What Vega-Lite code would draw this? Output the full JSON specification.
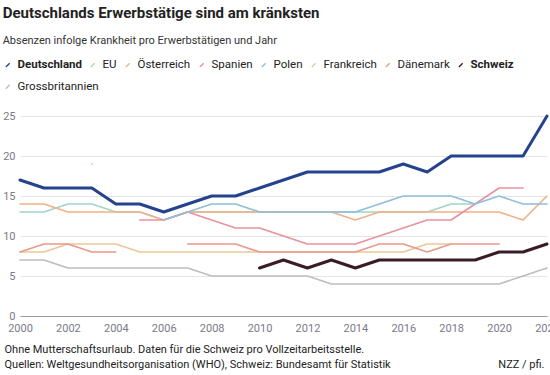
{
  "$schema": "https://vega.github.io/schema/vega-lite/v6.json",
  "width": 550,
  "height": 375,
  "autosize": {"type": "fit", "contains": "padding"},
  "padding": {"left": 2, "right": -10, "top": 6, "bottom": 6},
  "background": "white",
  "title": {
    "text": "Deutschlands Erwerbstätige sind am kränksten",
    "subtitle": "Absenzen infolge Krankheit pro Erwerbstätigen und Jahr",
    "anchor": "start",
    "frame": "bounds",
    "font": "Roboto",
    "fontSize": 15,
    "fontWeight": "bold",
    "color": "#222222",
    "subtitleFont": "Roboto",
    "subtitleFontSize": 11,
    "subtitleColor": "#333333",
    "subtitlePadding": 14,
    "offset": 64
  },
  "config": {
    "view": {"stroke": null},
    "font": "Roboto",
    "legend": {
      "title": null,
      "orient": "none",
      "direction": "horizontal",
      "symbolType": "M-0.5,0.5L0.5,-0.5",
      "symbolSize": 60,
      "symbolStrokeWidth": 1.3,
      "labelFont": "Roboto",
      "labelFontSize": 11.5,
      "labelColor": "#222222",
      "labelOffset": 4,
      "columnPadding": 5
    }
  },
  "data": {
    "values": [
      {"year": 2000, "land": "Deutschland", "value": 17},
      {"year": 2001, "land": "Deutschland", "value": 16},
      {"year": 2002, "land": "Deutschland", "value": 16},
      {"year": 2003, "land": "Deutschland", "value": 16},
      {"year": 2004, "land": "Deutschland", "value": 14},
      {"year": 2005, "land": "Deutschland", "value": 14},
      {"year": 2006, "land": "Deutschland", "value": 13},
      {"year": 2007, "land": "Deutschland", "value": 14},
      {"year": 2008, "land": "Deutschland", "value": 15},
      {"year": 2009, "land": "Deutschland", "value": 15},
      {"year": 2010, "land": "Deutschland", "value": 16},
      {"year": 2011, "land": "Deutschland", "value": 17},
      {"year": 2012, "land": "Deutschland", "value": 18},
      {"year": 2013, "land": "Deutschland", "value": 18},
      {"year": 2014, "land": "Deutschland", "value": 18},
      {"year": 2015, "land": "Deutschland", "value": 18},
      {"year": 2016, "land": "Deutschland", "value": 19},
      {"year": 2017, "land": "Deutschland", "value": 18},
      {"year": 2018, "land": "Deutschland", "value": 20},
      {"year": 2019, "land": "Deutschland", "value": 20},
      {"year": 2020, "land": "Deutschland", "value": 20},
      {"year": 2021, "land": "Deutschland", "value": 20},
      {"year": 2022, "land": "Deutschland", "value": 25},

      {"year": 2000, "land": "EU", "value": 13},
      {"year": 2001, "land": "EU", "value": 13},
      {"year": 2002, "land": "EU", "value": 14},
      {"year": 2003, "land": "EU", "value": 14},
      {"year": 2004, "land": "EU", "value": 13},
      {"year": 2005, "land": "EU", "value": 13},
      {"year": 2006, "land": "EU", "value": 12},
      {"year": 2007, "land": "EU", "value": 13},
      {"year": 2008, "land": "EU", "value": 13},
      {"year": 2009, "land": "EU", "value": 13},
      {"year": 2010, "land": "EU", "value": 13},
      {"year": 2011, "land": "EU", "value": 13},
      {"year": 2012, "land": "EU", "value": 13},
      {"year": 2013, "land": "EU", "value": 13},
      {"year": 2014, "land": "EU", "value": 13},
      {"year": 2015, "land": "EU", "value": 13},
      {"year": 2016, "land": "EU", "value": 13},
      {"year": 2017, "land": "EU", "value": 13},
      {"year": 2018, "land": "EU", "value": 14},
      {"year": 2019, "land": "EU", "value": 14},

      {"year": 2000, "land": "Österreich", "value": 14},
      {"year": 2001, "land": "Österreich", "value": 14},
      {"year": 2002, "land": "Österreich", "value": 13},
      {"year": 2003, "land": "Österreich", "value": 13},
      {"year": 2004, "land": "Österreich", "value": 13},
      {"year": 2005, "land": "Österreich", "value": 13},
      {"year": 2006, "land": "Österreich", "value": 12},
      {"year": 2007, "land": "Österreich", "value": 13},
      {"year": 2008, "land": "Österreich", "value": 13},
      {"year": 2009, "land": "Österreich", "value": 13},
      {"year": 2010, "land": "Österreich", "value": 13},
      {"year": 2011, "land": "Österreich", "value": 13},
      {"year": 2012, "land": "Österreich", "value": 13},
      {"year": 2013, "land": "Österreich", "value": 13},
      {"year": 2014, "land": "Österreich", "value": 12},
      {"year": 2015, "land": "Österreich", "value": 13},
      {"year": 2016, "land": "Österreich", "value": 13},
      {"year": 2017, "land": "Österreich", "value": 13},
      {"year": 2018, "land": "Österreich", "value": 13},
      {"year": 2019, "land": "Österreich", "value": 13},
      {"year": 2020, "land": "Österreich", "value": 13},
      {"year": 2021, "land": "Österreich", "value": 12},
      {"year": 2022, "land": "Österreich", "value": 15},

      {"year": 2003, "land": "Spanien", "value": 19},
      {"year": 2004, "land": "Spanien", "value": null},
      {"year": 2005, "land": "Spanien", "value": 12},
      {"year": 2006, "land": "Spanien", "value": 12},
      {"year": 2007, "land": "Spanien", "value": 13},
      {"year": 2008, "land": "Spanien", "value": 12},
      {"year": 2009, "land": "Spanien", "value": 11},
      {"year": 2010, "land": "Spanien", "value": 11},
      {"year": 2011, "land": "Spanien", "value": 10},
      {"year": 2012, "land": "Spanien", "value": 9},
      {"year": 2013, "land": "Spanien", "value": 9},
      {"year": 2014, "land": "Spanien", "value": 9},
      {"year": 2015, "land": "Spanien", "value": 10},
      {"year": 2016, "land": "Spanien", "value": 11},
      {"year": 2017, "land": "Spanien", "value": 12},
      {"year": 2018, "land": "Spanien", "value": 12},
      {"year": 2019, "land": "Spanien", "value": 14},
      {"year": 2020, "land": "Spanien", "value": 16},
      {"year": 2021, "land": "Spanien", "value": 16},

      {"year": 2006, "land": "Polen", "value": 12},
      {"year": 2007, "land": "Polen", "value": 13},
      {"year": 2008, "land": "Polen", "value": 14},
      {"year": 2009, "land": "Polen", "value": 14},
      {"year": 2010, "land": "Polen", "value": 13},
      {"year": 2011, "land": "Polen", "value": 13},
      {"year": 2012, "land": "Polen", "value": 13},
      {"year": 2013, "land": "Polen", "value": 13},
      {"year": 2014, "land": "Polen", "value": 13},
      {"year": 2015, "land": "Polen", "value": 14},
      {"year": 2016, "land": "Polen", "value": 15},
      {"year": 2017, "land": "Polen", "value": 15},
      {"year": 2018, "land": "Polen", "value": 15},
      {"year": 2019, "land": "Polen", "value": 14},
      {"year": 2020, "land": "Polen", "value": 15},
      {"year": 2021, "land": "Polen", "value": 14},
      {"year": 2022, "land": "Polen", "value": 14},

      {"year": 2000, "land": "Frankreich", "value": 8},
      {"year": 2001, "land": "Frankreich", "value": 8},
      {"year": 2002, "land": "Frankreich", "value": 9},
      {"year": 2003, "land": "Frankreich", "value": 9},
      {"year": 2004, "land": "Frankreich", "value": 9},
      {"year": 2005, "land": "Frankreich", "value": 8},
      {"year": 2006, "land": "Frankreich", "value": 8},
      {"year": 2007, "land": "Frankreich", "value": 8},
      {"year": 2008, "land": "Frankreich", "value": 8},
      {"year": 2009, "land": "Frankreich", "value": 8},
      {"year": 2010, "land": "Frankreich", "value": 8},
      {"year": 2011, "land": "Frankreich", "value": 8},
      {"year": 2012, "land": "Frankreich", "value": 8},
      {"year": 2013, "land": "Frankreich", "value": 8},
      {"year": 2014, "land": "Frankreich", "value": 8},
      {"year": 2015, "land": "Frankreich", "value": 8},
      {"year": 2016, "land": "Frankreich", "value": 8},
      {"year": 2017, "land": "Frankreich", "value": 9},
      {"year": 2018, "land": "Frankreich", "value": 9},

      {"year": 2000, "land": "Dänemark", "value": 8},
      {"year": 2001, "land": "Dänemark", "value": 9},
      {"year": 2002, "land": "Dänemark", "value": 9},
      {"year": 2003, "land": "Dänemark", "value": 8},
      {"year": 2004, "land": "Dänemark", "value": 8},
      {"year": 2005, "land": "Dänemark", "value": null},
      {"year": 2006, "land": "Dänemark", "value": null},
      {"year": 2007, "land": "Dänemark", "value": 9},
      {"year": 2008, "land": "Dänemark", "value": 9},
      {"year": 2009, "land": "Dänemark", "value": 9},
      {"year": 2010, "land": "Dänemark", "value": 8},
      {"year": 2011, "land": "Dänemark", "value": 8},
      {"year": 2012, "land": "Dänemark", "value": 8},
      {"year": 2013, "land": "Dänemark", "value": 8},
      {"year": 2014, "land": "Dänemark", "value": 8},
      {"year": 2015, "land": "Dänemark", "value": 9},
      {"year": 2016, "land": "Dänemark", "value": 9},
      {"year": 2017, "land": "Dänemark", "value": 8},
      {"year": 2018, "land": "Dänemark", "value": 9},
      {"year": 2019, "land": "Dänemark", "value": 9},
      {"year": 2020, "land": "Dänemark", "value": 9},

      {"year": 2010, "land": "Schweiz", "value": 6},
      {"year": 2011, "land": "Schweiz", "value": 7},
      {"year": 2012, "land": "Schweiz", "value": 6},
      {"year": 2013, "land": "Schweiz", "value": 7},
      {"year": 2014, "land": "Schweiz", "value": 6},
      {"year": 2015, "land": "Schweiz", "value": 7},
      {"year": 2016, "land": "Schweiz", "value": 7},
      {"year": 2017, "land": "Schweiz", "value": 7},
      {"year": 2018, "land": "Schweiz", "value": 7},
      {"year": 2019, "land": "Schweiz", "value": 7},
      {"year": 2020, "land": "Schweiz", "value": 8},
      {"year": 2021, "land": "Schweiz", "value": 8},
      {"year": 2022, "land": "Schweiz", "value": 9},

      {"year": 2000, "land": "Grossbritannien", "value": 7},
      {"year": 2001, "land": "Grossbritannien", "value": 7},
      {"year": 2002, "land": "Grossbritannien", "value": 6},
      {"year": 2003, "land": "Grossbritannien", "value": 6},
      {"year": 2004, "land": "Grossbritannien", "value": 6},
      {"year": 2005, "land": "Grossbritannien", "value": 6},
      {"year": 2006, "land": "Grossbritannien", "value": 6},
      {"year": 2007, "land": "Grossbritannien", "value": 6},
      {"year": 2008, "land": "Grossbritannien", "value": 5},
      {"year": 2009, "land": "Grossbritannien", "value": 5},
      {"year": 2010, "land": "Grossbritannien", "value": 5},
      {"year": 2011, "land": "Grossbritannien", "value": 5},
      {"year": 2012, "land": "Grossbritannien", "value": 5},
      {"year": 2013, "land": "Grossbritannien", "value": 4},
      {"year": 2014, "land": "Grossbritannien", "value": 4},
      {"year": 2015, "land": "Grossbritannien", "value": 4},
      {"year": 2016, "land": "Grossbritannien", "value": 4},
      {"year": 2017, "land": "Grossbritannien", "value": 4},
      {"year": 2018, "land": "Grossbritannien", "value": 4},
      {"year": 2019, "land": "Grossbritannien", "value": 4},
      {"year": 2020, "land": "Grossbritannien", "value": 4},
      {"year": 2021, "land": "Grossbritannien", "value": 5},
      {"year": 2022, "land": "Grossbritannien", "value": 6}
    ]
  },
  "layer": [
    {
      "transform": [{"filter": "datum.land === 'Grossbritannien'"}],
      "mark": {"type": "line", "invalid": "break-paths-show-domains", "strokeCap": "round", "strokeJoin": "round", "strokeWidth": 1.6},
      "encoding": {
        "x": {"field": "year", "type": "quantitative", "scale": {"domain": [2000, 2022], "nice": false, "zero": false}, "axis": null},
        "y": {
          "field": "value",
          "type": "quantitative",
          "scale": {"domain": [0, 25], "nice": false},
          "axis": {
            "values": [0, 5, 10, 15, 20, 25],
            "title": null,
            "domain": false,
            "ticks": false,
            "grid": true,
            "gridColor": "#e4e4e4",
            "gridWidth": 1,
            "labelFont": "Roboto",
            "labelFontSize": 11,
            "labelColor": "#7a7a86",
            "labelPadding": 5
          }
        },
        "stroke": {
          "field": "land",
          "type": "nominal",
          "scale": {"domain": ["Grossbritannien"], "range": ["#bdbdbd"]},
          "legend": {"legendX": -18, "legendY": -35}
        }
      }
    },
    {
      "transform": [{"filter": "datum.land !== 'Grossbritannien'"}],
      "mark": {"type": "line", "invalid": "break-paths-show-domains", "strokeCap": "round", "strokeJoin": "round"},
      "encoding": {
        "x": {
          "field": "year",
          "type": "quantitative",
          "scale": {"domain": [2000, 2022], "nice": false, "zero": false},
          "axis": {
            "values": [2000, 2002, 2004, 2006, 2008, 2010, 2012, 2014, 2016, 2018, 2020, 2022],
            "format": "d",
            "grid": false,
            "domain": true,
            "domainColor": "#9a9aa6",
            "domainWidth": 1,
            "ticks": false,
            "labelFlush": false,
            "labelFont": "Roboto",
            "labelFontSize": 11,
            "labelColor": "#7a7a86",
            "labelPadding": 6,
            "title": ["Ohne Mutterschaftsurlaub. Daten für die Schweiz pro Vollzeitarbeitsstelle.", "Quellen: Weltgesundheitsorganisation (WHO), Schweiz: Bundesamt für Statistik"],
            "titleFont": "Roboto",
            "titleFontSize": 11,
            "titleFontWeight": "normal",
            "titleColor": "#222222",
            "titleAnchor": "start",
            "titleAlign": "left",
            "titleBaseline": "top",
            "titleX": -16,
            "titleY": 27,
            "titleLineHeight": 15
          }
        },
        "y": {
          "field": "value",
          "type": "quantitative",
          "scale": {"domain": [0, 25], "nice": false},
          "axis": {
            "values": [0, 5, 10, 15, 20, 25],
            "title": null,
            "domain": false,
            "ticks": false,
            "grid": true,
            "gridColor": "#e4e4e4",
            "gridWidth": 1,
            "labelFont": "Roboto",
            "labelFontSize": 11,
            "labelColor": "#7a7a86",
            "labelPadding": 5
          }
        },
        "color": {
          "field": "land",
          "type": "nominal",
          "scale": {
            "domain": ["Deutschland", "EU", "Österreich", "Spanien", "Polen", "Frankreich", "Dänemark", "Schweiz"],
            "range": ["#24428e", "#a3d3c9", "#efb187", "#e8919f", "#8fbfd8", "#eac796", "#e8998c", "#3a1c28"]
          },
          "legend": {
            "legendX": -18,
            "legendY": -57,
            "encode": {
              "labels": {
                "update": {
                  "fontWeight": {"signal": "datum.value === 'Deutschland' || datum.value === 'Schweiz' ? 'bold' : 'normal'"}
                }
              }
            }
          }
        },
        "strokeWidth": {
          "condition": {"test": "datum.land === 'Deutschland' || datum.land === 'Schweiz'", "value": 3},
          "value": 1.6
        }
      }
    },
    {
      "mark": {"type": "rule", "opacity": 0},
      "encoding": {
        "x": {
          "field": "year",
          "type": "quantitative",
          "axis": {
            "orient": "bottom",
            "labels": false,
            "ticks": false,
            "domain": false,
            "grid": false,
            "title": "NZZ / pfi.",
            "titleFont": "Roboto",
            "titleFontSize": 11,
            "titleFontWeight": "normal",
            "titleColor": "#222222",
            "titleAnchor": "end",
            "titleAlign": "right",
            "titleBaseline": "top",
            "titleX": {"expr": "width - 3"},
            "titleY": 42
          }
        }
      }
    }
  ],
  "resolve": {"axis": {"x": "independent"}}
}
